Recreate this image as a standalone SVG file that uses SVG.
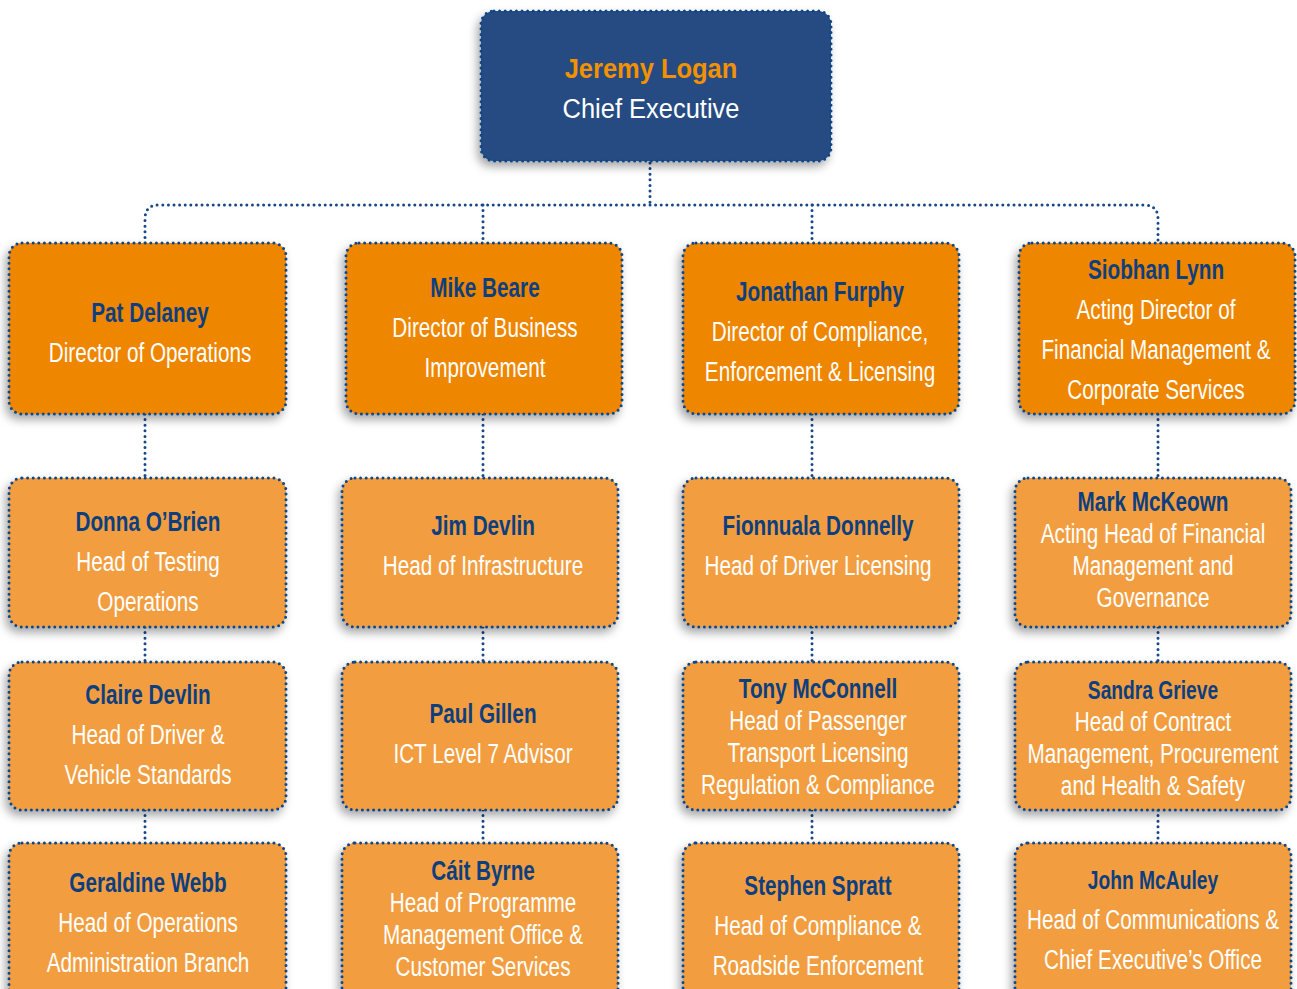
<svg xmlns="http://www.w3.org/2000/svg" width="1297" height="989" viewBox="0 0 1297 989">
<defs>
<filter id="sh" x="-20%" y="-20%" width="140%" height="150%">
<feDropShadow dx="-3" dy="5" stdDeviation="5" flood-color="#000" flood-opacity="0.35"/>
</filter>
<style>
.ceo{fill:#284b82;stroke:#0d4689;stroke-width:3;stroke-dasharray:0 5.6;stroke-linecap:round;filter:url(#sh)}
.dir{fill:#ee8600;stroke:#0d4689;stroke-width:3;stroke-dasharray:0 5.6;stroke-linecap:round;filter:url(#sh)}
.hd{fill:#f29e3f;stroke:#0d4689;stroke-width:3;stroke-dasharray:0 5.6;stroke-linecap:round;filter:url(#sh)}
.con{fill:none;stroke:#164789;stroke-width:3;stroke-dasharray:0 5.6;stroke-linecap:round}
text{font-family:"Liberation Sans",Arial,sans-serif;font-size:28px;text-anchor:middle}
.n{font-weight:bold;fill:#0d3f7f}
.r{fill:#ffffff}
.cn{font-weight:bold;fill:#f39200}
.sm{font-size:26px}
</style>
</defs>
<g id="connectors">
<path class="con" d="M650,163 V205"/>
<path class="con" d="M145,243 V219 Q145,205 159,205 H1144 Q1158,205 1158,219 V243"/>
<path class="con" d="M483,205 V243"/>
<path class="con" d="M812,205 V243"/>
<path class="con" d="M145,414 V478 M145,627 V662 M145,810 V843"/>
<path class="con" d="M483,414 V478 M483,627 V662 M483,810 V843"/>
<path class="con" d="M812,414 V478 M812,627 V662 M812,810 V843"/>
<path class="con" d="M1158,414 V478 M1158,627 V662 M1158,810 V843"/>
</g>
<g id="ceo">
<rect class="ceo" x="481" y="11" width="350" height="150" rx="13"/>
<g transform="translate(651 0) scale(0.91 1)">
<text class="cn" x="0" y="78">Jeremy Logan</text>
<text class="r" x="0" y="118">Chief Executive</text>
</g>
</g>
<g id="pat-delaney">
<rect class="dir" x="9" y="243" width="277" height="171" rx="13"/>
<g transform="translate(150 0) scale(0.74 1)">
<text class="n" x="0" y="322">Pat Delaney</text>
<text class="r" x="0" y="362">Director of Operations</text>
</g>
</g>
<g id="mike-beare">
<rect class="dir" x="346" y="243" width="276" height="171" rx="13"/>
<g transform="translate(485 0) scale(0.74 1)">
<text class="n" x="0" y="297">Mike Beare</text>
<text class="r" x="0" y="337">Director of Business</text>
<text class="r" x="0" y="377">Improvement</text>
</g>
</g>
<g id="jonathan-furphy">
<rect class="dir" x="683" y="243" width="276" height="171" rx="13"/>
<g transform="translate(820 0) scale(0.74 1)">
<text class="n" x="0" y="301">Jonathan Furphy</text>
<text class="r" x="0" y="341">Director of Compliance,</text>
<text class="r" x="0" y="381">Enforcement &amp; Licensing</text>
</g>
</g>
<g id="siobhan-lynn">
<rect class="dir" x="1019" y="243" width="276" height="171" rx="13"/>
<g transform="translate(1156 0) scale(0.74 1)">
<text class="n" x="0" y="279">Siobhan Lynn</text>
<text class="r" x="0" y="319">Acting Director of</text>
<text class="r" x="0" y="359">Financial Management &amp;</text>
<text class="r" x="0" y="399">Corporate Services</text>
</g>
</g>
<g id="donna-obrien">
<rect class="hd" x="9" y="478" width="277" height="149" rx="13"/>
<g transform="translate(148 0) scale(0.74 1)">
<text class="n" x="0" y="531">Donna O’Brien</text>
<text class="r" x="0" y="571">Head of Testing</text>
<text class="r" x="0" y="611">Operations</text>
</g>
</g>
<g id="jim-devlin">
<rect class="hd" x="342" y="478" width="276" height="149" rx="13"/>
<g transform="translate(483 0) scale(0.74 1)">
<text class="n" x="0" y="535">Jim Devlin</text>
<text class="r" x="0" y="575">Head of Infrastructure</text>
</g>
</g>
<g id="fionnuala-donnelly">
<rect class="hd" x="683" y="478" width="276" height="149" rx="13"/>
<g transform="translate(818 0) scale(0.74 1)">
<text class="n" x="0" y="535">Fionnuala Donnelly</text>
<text class="r" x="0" y="575">Head of Driver Licensing</text>
</g>
</g>
<g id="mark-mckeown">
<rect class="hd" x="1015" y="478" width="276" height="149" rx="13"/>
<g transform="translate(1153 0) scale(0.74 1)">
<text class="n" x="0" y="511">Mark McKeown</text>
<text class="r" x="0" y="543">Acting Head of Financial</text>
<text class="r" x="0" y="575">Management and</text>
<text class="r" x="0" y="607">Governance</text>
</g>
</g>
<g id="claire-devlin">
<rect class="hd" x="9" y="662" width="277" height="148" rx="13"/>
<g transform="translate(148 0) scale(0.74 1)">
<text class="n" x="0" y="704">Claire Devlin</text>
<text class="r" x="0" y="744">Head of Driver &amp;</text>
<text class="r" x="0" y="784">Vehicle Standards</text>
</g>
</g>
<g id="paul-gillen">
<rect class="hd" x="342" y="662" width="276" height="148" rx="13"/>
<g transform="translate(483 0) scale(0.74 1)">
<text class="n" x="0" y="723">Paul Gillen</text>
<text class="r" x="0" y="763">ICT Level 7 Advisor</text>
</g>
</g>
<g id="tony-mcconnell">
<rect class="hd" x="683" y="662" width="276" height="148" rx="13"/>
<g transform="translate(818 0) scale(0.74 1)">
<text class="n" x="0" y="698">Tony McConnell</text>
<text class="r" x="0" y="730">Head of Passenger</text>
<text class="r" x="0" y="762">Transport Licensing</text>
<text class="r" x="0" y="794">Regulation &amp; Compliance</text>
</g>
</g>
<g id="sandra-grieve">
<rect class="hd" x="1015" y="662" width="276" height="148" rx="13"/>
<g transform="translate(1153 0) scale(0.74 1)">
<text class="n sm" x="0" y="699">Sandra Grieve</text>
<text class="r" x="0" y="731">Head of Contract</text>
<text class="r" x="0" y="763">Management, Procurement</text>
<text class="r" x="0" y="795">and Health &amp; Safety</text>
</g>
</g>
<g id="geraldine-webb">
<rect class="hd" x="9" y="843" width="277" height="170" rx="13"/>
<g transform="translate(148 0) scale(0.74 1)">
<text class="n" x="0" y="892">Geraldine Webb</text>
<text class="r" x="0" y="932">Head of Operations</text>
<text class="r" x="0" y="972">Administration Branch</text>
</g>
</g>
<g id="cait-byrne">
<rect class="hd" x="342" y="843" width="276" height="170" rx="13"/>
<g transform="translate(483 0) scale(0.74 1)">
<text class="n" x="0" y="880">Cáit Byrne</text>
<text class="r" x="0" y="912">Head of Programme</text>
<text class="r" x="0" y="944">Management Office &amp;</text>
<text class="r" x="0" y="976">Customer Services</text>
</g>
</g>
<g id="stephen-spratt">
<rect class="hd" x="683" y="843" width="276" height="170" rx="13"/>
<g transform="translate(818 0) scale(0.74 1)">
<text class="n" x="0" y="895">Stephen Spratt</text>
<text class="r" x="0" y="935">Head of Compliance &amp;</text>
<text class="r" x="0" y="975">Roadside Enforcement</text>
</g>
</g>
<g id="john-mcauley">
<rect class="hd" x="1015" y="843" width="276" height="170" rx="13"/>
<g transform="translate(1153 0) scale(0.74 1)">
<text class="n sm" x="0" y="889">John McAuley</text>
<text class="r" x="0" y="929">Head of Communications &amp;</text>
<text class="r" x="0" y="969">Chief Executive’s Office</text>
</g>
</g>
</svg>
